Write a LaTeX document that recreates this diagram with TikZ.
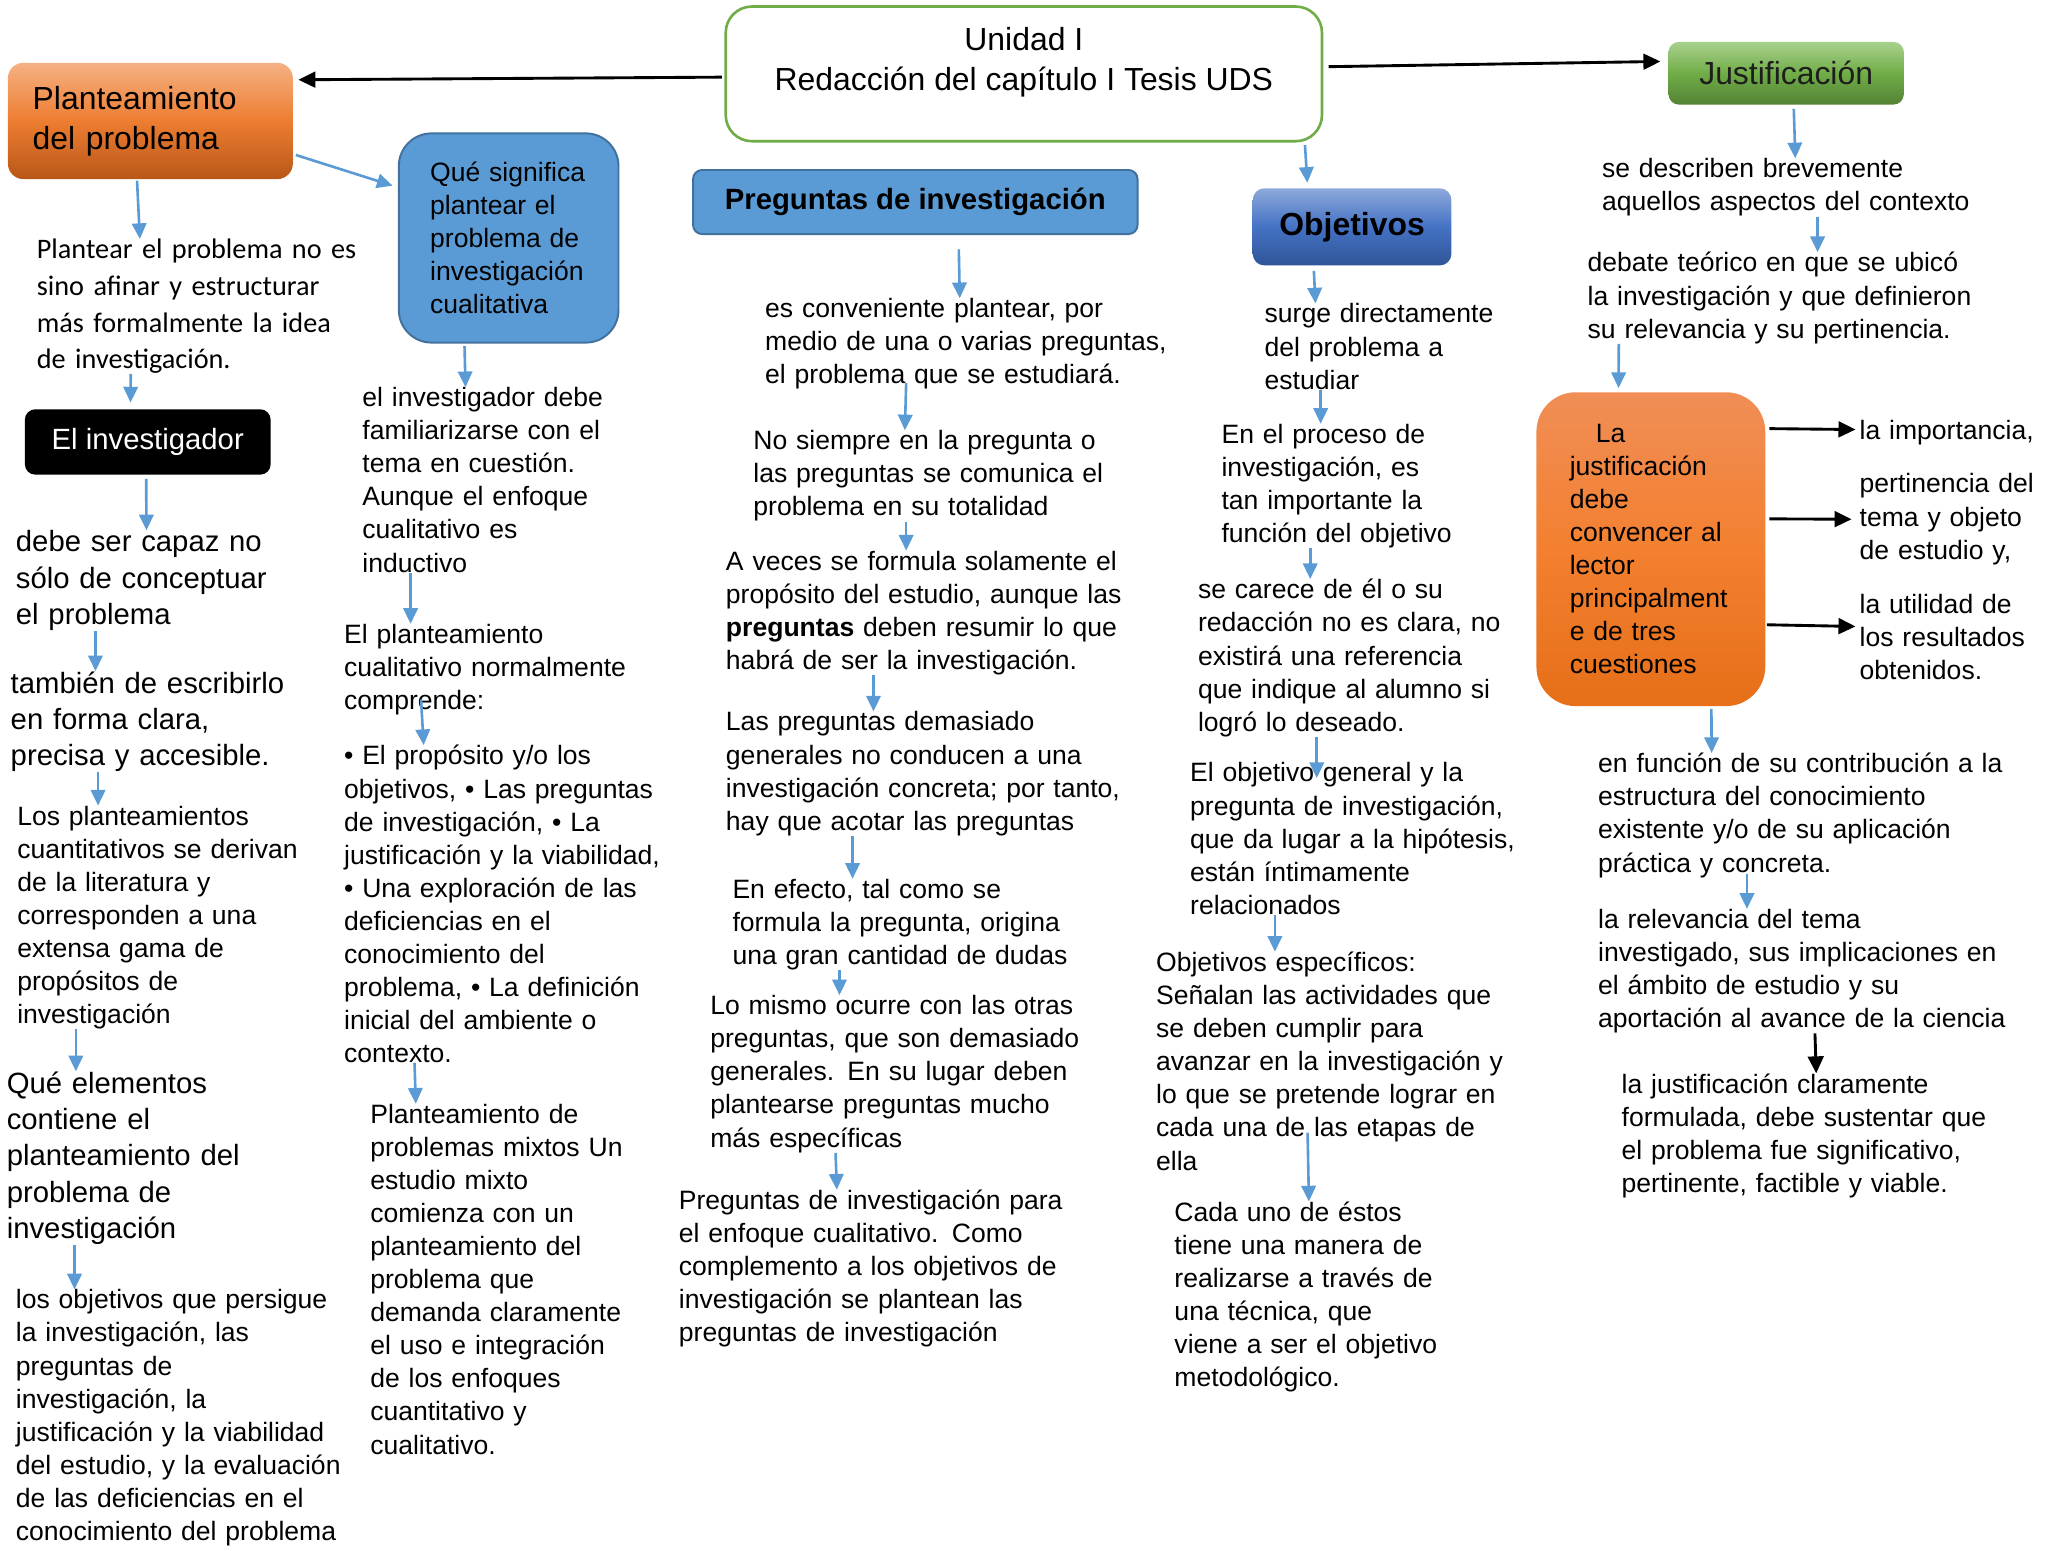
\documentclass[tikz,border=0pt]{standalone}
\usepackage{fontspec}
\setmainfont{Liberation Sans}
\newfontfamily\gillfont{Carlito}
\usepackage{tikz}
\usetikzlibrary{positioning}
\usetikzlibrary{%
  calc,%
  arrows.meta%
}
\definecolor{azul}{HTML}{5B9BD5}
\definecolor{azulborde}{HTML}{41719C}
\definecolor{verde}{HTML}{70AD47}
\newcommand{\fnormal}{\fontsize{20.3}{25.3}\selectfont}
\newcommand{\fgrande}{\fontsize{22.4}{27.8}\selectfont}
\newcommand{\ftitulo}{\fontsize{24.4}{30.5}\selectfont}

\begin{document}
\begin{tikzpicture}[x=1pt, y=-1pt,
  nota/.style={anchor=base west, inner sep=0pt, text width=340pt, align=left, font=\fnormal},
  notagrande/.style={nota, font=\fgrande},
  flecha/.style={draw=azul, line width=2pt, -{Triangle[length=12pt,width=11pt]}},
  flechanegra/.style={draw=black, line width=2.2pt, -{Triangle[length=13pt,width=12pt]}}]
\useasboundingbox (0,0) rectangle (1567,1185.5);

\node[draw=verde, line width=2pt, fill=white, rounded corners=20pt, minimum width=456pt, minimum height=103pt, font=\ftitulo] (U) at (783,56.5)
  {\raisebox{8.5pt}[\height][\depth]{\begin{tabular}{@{}c@{}}Unidad I\\Redacción del capítulo I Tesis UDS\end{tabular}}};

% columna 1
\node[rounded corners=12pt, top color={rgb,255:red,245;green,177;blue,131}, bottom color={rgb,255:red,184;green,87;blue,24}, middle color={rgb,255:red,237;green,125;blue,49},
  minimum height=89pt, text width=180pt, inner xsep=19pt, align=left, font=\ftitulo] (A0) at (115,92.5) {Planteamiento\\del problema};
\node[nota, font=\gillfont\fontsize{21.6}{28}\selectfont] (A1) at (28,198) {Plantear el problema no es\\sino afinar y estructurar\\más formalmente la idea\\de investigación.};
\node[fill=black, text=white, rounded corners=8pt, minimum width=188pt, minimum height=50pt, font=\fgrande] (AI) at (113,338) {El investigador};
\node[notagrande] (A2) at (12,422) {debe ser capaz no\\sólo de conceptuar\\el problema};
\node[notagrande] (A3) at (8,530) {también de escribirlo\\en forma clara,\\precisa y accesible.};
\node[nota] (A4) at (13,631) {Los planteamientos\\cuantitativos se derivan\\de la literatura y\\corresponden a una\\extensa gama de\\propósitos de\\investigación};
\node[notagrande] (A5) at (5,836) {Qué elementos\\contiene el\\planteamiento del\\problema de\\investigación};
\node[nota] (A6) at (12,1001) {los objetivos que persigue\\la investigación, las\\preguntas de\\investigación, la\\justificación y la viabilidad\\del estudio, y la evaluación\\de las deficiencias en el\\conocimiento del problema};

% columna 2
\node[fill=azul, draw=azulborde, line width=1.5pt, rounded corners=25pt, minimum height=160pt, text width=120pt, inner xsep=24pt, align=left, font=\fnormal] (B0) at (389,182)
  {Qué significa\\plantear el\\problema de\\investigación\\cualitativa};
\node[nota] (B1) at (277,311) {el investigador debe\\familiarizarse con el\\tema en cuestión.\\Aunque el enfoque\\cualitativo es\\inductivo};
\node[nota] (B2) at (263,492) {El planteamiento\\cualitativo normalmente\\comprende:};
\node[nota] (B3) at (263,585) {• El propósito y/o los\\objetivos, • Las preguntas\\de investigación, • La\\justificación y la viabilidad,\\• Una exploración de las\\deficiencias en el\\conocimiento del\\problema, • La definición\\inicial del ambiente o\\contexto.};
\node[nota] (B4) at (283,859) {Planteamiento de\\problemas mixtos Un\\estudio mixto\\comienza con un\\planteamiento del\\problema que\\demanda claramente\\el uso e integración\\de los enfoques\\cuantitativo y\\cualitativo.};

% columna 3
\node[fill=azul, draw=azulborde, line width=1.5pt, rounded corners=7pt, minimum width=340pt, minimum height=49pt, font=\fgrande\bfseries] (C0) at (700,154.5) {Preguntas de investigación};
\node[nota] (C1) at (585,243) {es conveniente plantear, por\\medio de una o varias preguntas,\\el problema que se estudiará.};
\node[nota] (C2) at (576,344) {No siempre en la pregunta o\\las preguntas se comunica el\\problema en su totalidad};
\node[nota] (C3) at (555,436) {A veces se formula solamente el\\propósito del estudio, aunque las\\\textbf{preguntas} deben resumir lo que\\habrá de ser la investigación.};
\node[nota] (C4) at (555,559) {Las preguntas demasiado\\generales no conducen a una\\investigación concreta; por tanto,\\hay que acotar las preguntas};
\node[nota] (C5) at (560,687) {En efecto, tal como se\\formula la pregunta, origina\\una gran cantidad de dudas};
\node[nota] (C6) at (543,776) {Lo mismo ocurre con las otras\\preguntas, que son demasiado\\generales. En su lugar deben\\plantearse preguntas mucho\\más específicas};
\node[nota] (C7) at (519,925) {Preguntas de investigación para\\el enfoque cualitativo. Como\\complemento a los objetivos de\\investigación se plantean las\\preguntas de investigación};

% columna 4
\node[rounded corners=9pt, top color={rgb,255:red,142;green,169;blue,219}, bottom color={rgb,255:red,47;green,85;blue,151}, middle color={rgb,255:red,68;green,114;blue,196},
  minimum width=152pt, minimum height=59pt, font=\ftitulo\bfseries] (D0) at (1034,173.5) {Objetivos};
\node[nota] (D1) at (967,247) {surge directamente\\del problema a\\estudiar};
\node[nota] (D2) at (934,339) {En el proceso de\\investigación, es\\tan importante la\\función del objetivo};
\node[nota] (D3) at (916,458) {se carece de él o su\\redacción no es clara, no\\existirá una referencia\\que indique al alumno si\\logró lo deseado.};
\node[nota] (D4) at (910,598) {El objetivo general y la\\pregunta de investigación,\\que da lugar a la hipótesis,\\están íntimamente\\relacionados};
\node[nota] (D5) at (884,743) {Objetivos específicos:\\Señalan las actividades que\\se deben cumplir para\\avanzar en la investigación y\\lo que se pretende lograr en\\cada una de las etapas de\\ella};
\node[nota] (D6) at (898,934) {Cada uno de éstos\\tiene una manera de\\realizarse a través de\\una técnica, que\\viene a ser el objetivo\\metodológico.};

% columna 5
\node[rounded corners=8pt, top color={rgb,255:red,169;green,209;blue,142}, bottom color={rgb,255:red,84;green,130;blue,53}, middle color=verde,
  minimum width=180pt, minimum height=48pt, text={rgb,255:red,30;green,30;blue,30}, font=\ftitulo] (E0) at (1366,56) {Justificación};
\node[nota] (E1) at (1225,136) {se describen brevemente\\aquellos aspectos del contexto};
\node[nota] (E2) at (1214,208) {debate teórico en que se ubicó\\la investigación y que definieron\\su relevancia y su pertinencia.};
\node[rounded corners=30pt, top color={rgb,255:red,240;green,142;blue,86}, bottom color={rgb,255:red,230;green,111;blue,24}, middle color={rgb,255:red,243;green,128;blue,48},
  minimum height=240pt, text width=124pt, inner xsep=25.5pt, align=left, font=\fnormal] (E3) at (1262.5,420)
  {\hspace*{20pt}La\\justificación\\debe\\convencer al\\lector\\principalment\\e de tres\\cuestiones};
\node[nota] (F1) at (1422,336) {la importancia,};
\node[nota] (F2) at (1422,377) {pertinencia del\\tema y objeto\\de estudio y,};
\node[nota] (F3) at (1422,469) {la utilidad de\\los resultados\\obtenidos.};
\node[nota] (E4) at (1222,591) {en función de su contribución a la\\estructura del conocimiento\\existente y/o de su aplicación\\práctica y concreta.};
\node[nota] (E5) at (1222,710) {la relevancia del tema\\investigado, sus implicaciones en\\el ámbito de estudio y su\\aportación al avance de la ciencia};
\node[nota] (E6) at (1240,836) {la justificación claramente\\formulada, debe sustentar que\\el problema fue significativo,\\pertinente, factible y viable.};

\draw
  ([shift={(-2,2.5)}]U.west) edge[flechanegra] ([shift={(4,-31.5)}]A0.east)
  ([shift={(4,-5.5)}]U.east) edge[flechanegra] ([shift={(-6,-9)}]E0.west)
  ([shift={(-14,2)}]U.south east) edge[flecha] ([shift={(42,-4)}]D0.north west)
  % columna 1
  ([shift={(99,1)}]A0.south west) edge[flecha] ([shift={(79,0)}]A1.north west)
  ([shift={(72,0)}]A1.south west) edge[flecha] ([shift={(81,-5)}]AI.north west)
  ([shift={(93,3)}]AI.south west) edge[flecha] ([shift={(100,0)}]A2.north west)
  ([shift={(61,0)}]A2.south west) edge[flecha] ([shift={(65,0)}]A3.north west)
  ([shift={(67,0)}]A3.south west) edge[flecha] ([shift={(62,0)}]A4.north west)
  ([shift={(45,0)}]A4.south west) edge[flecha] ([shift={(53,0)}]A5.north west)
  ([shift={(52,0)}]A5.south west) edge[flecha] ([shift={(45,0)}]A6.north west)
  % columna 2
  ([shift={(2,26)}]A0.east) edge[flecha] ([shift={(-4,-40)}]B0.west)
  ([shift={(51,2)}]B0.south west) edge[flecha] ([shift={(79,0)}]B1.north west)
  ([shift={(37,0)}]B1.south west) edge[flecha] ([shift={(51,0)}]B2.north west)
  ([shift={(59,-12)}]B2.south west) edge[flecha] ([shift={(61,0)}]B3.north west)
  ([shift={(54,0)}]B3.south west) edge[flecha] ([shift={(35,0)}]B4.north west)
  % columna 3
  ([shift={(204,11)}]C0.south west) edge[flecha] ([shift={(149,0)}]C1.north west)
  ([shift={(108,-5)}]C1.south west) edge[flecha] ([shift={(116,0)}]C2.north west)
  ([shift={(117,0)}]C2.south west) edge[flecha] ([shift={(138,0)}]C3.north west)
  ([shift={(113,0)}]C3.south west) edge[flecha] ([shift={(113,0)}]C4.north west)
  ([shift={(97,0)}]C4.south west) edge[flecha] ([shift={(92,0)}]C5.north west)
  ([shift={(82,0)}]C5.south west) edge[flecha] ([shift={(99,0)}]C6.north west)
  ([shift={(96,0)}]C6.south west) edge[flecha] ([shift={(121,0)}]C7.north west)
  % columna 4
  ([shift={(47,4)}]D0.south west) edge[flecha] ([shift={(39,0)}]D1.north west)
  ([shift={(43,0)}]D1.south west) edge[flecha] ([shift={(76,0)}]D2.north west)
  ([shift={(68,0)}]D2.south west) edge[flecha] ([shift={(86,0)}]D3.north west)
  ([shift={(91,0)}]D3.south west) edge[flecha] ([shift={(97,12)}]D4.north west)
  ([shift={(65,0)}]D4.south west) edge[flecha] ([shift={(91,0)}]D5.north west)
  ([shift={(116,-29)}]D5.south west) edge[flecha] ([shift={(103,0)}]D6.north west)
  % columna 5
  ([shift={(96,3)}]E0.south west) edge[flecha] ([shift={(148,0)}]E1.north west)
  ([shift={(165,0)}]E1.south west) edge[flecha] ([shift={(176,0)}]E2.north west)
  ([shift={(24,0)}]E2.south west) edge[flecha] ([shift={(63,-3)}]E3.north west)
  ([shift={(3,28)}]E3.north east) edge[flechanegra] ([shift={(-3,7.4)}]F1.north west)
  ([shift={(3,97)}]E3.north east) edge[flechanegra] ([shift={(-6,35)}]F2.north west)
  ([shift={(1,178)}]E3.north east) edge[flechanegra] ([shift={(-3,25)}]F3.north west)
  ([shift={(134,2)}]E3.south west) edge[flecha] ([shift={(87,0)}]E4.north west)
  ([shift={(114,-3)}]E4.south west) edge[flecha] ([shift={(114,0)}]E5.north west)
  ([shift={(166,0)}]E5.south west) edge[flechanegra] ([shift={(149,0)}]E6.north west)
;
\end{tikzpicture}
\end{document}
